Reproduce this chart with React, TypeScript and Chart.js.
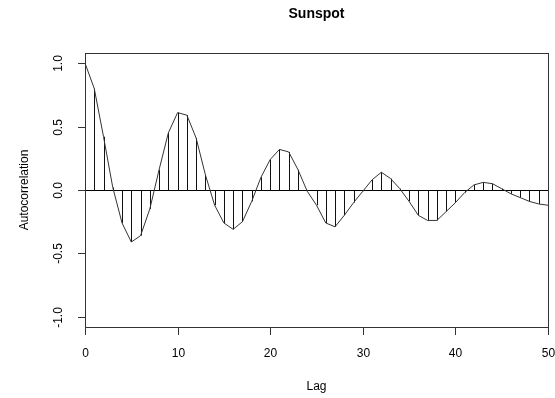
import React, { useEffect, useRef } from "react";
import { Chart, registerables } from "chart.js";

Chart.register(...registerables);

// Autocorrelation of the yearly sunspot series, lags 0..50
const lags: number[] = Array.from({ length: 51 }, (_, i) => i);
const acf: number[] = [
  1.0, 0.8, 0.42, 0.02, -0.26, -0.41, -0.36, -0.15, 0.16, 0.45,
  0.61, 0.59, 0.41, 0.12, -0.12, -0.26, -0.31, -0.25, -0.09, 0.1,
  0.24, 0.32, 0.3, 0.16, -0.01, -0.12, -0.26, -0.29, -0.2, -0.1,
  -0.01, 0.08, 0.14, 0.09, 0.01, -0.09, -0.2, -0.24, -0.24, -0.17,
  -0.1, -0.02, 0.04, 0.06, 0.05, 0.01, -0.03, -0.06, -0.09, -0.11,
  -0.12,
];
const xTicks: number[] = [0, 10, 20, 30, 40, 50];
const yTicks: number[] = [-1.0, -0.5, 0.0, 0.5, 1.0];
const yTickLabels: string[] = ["-1.0", "-0.5", "0.0", "0.5", "1.0"];
const title = "Sunspot";
const xTitle = "Lag";
const yTitle = "Autocorrelation";

const FONT = '"Liberation Sans", Arial, Helvetica, sans-serif';

// Draws the zero line, crisp 1px stems from the bar elements, the box,
// the axes and all the text in base-graphics style.
const framePlugin = {
  id: "rFrame",
  beforeDatasetsDraw(chart: any) {
    const { ctx, chartArea, scales } = chart;
    const y0 = Math.round(scales.y.getPixelForValue(0)) + 0.5;
    ctx.save();
    ctx.strokeStyle = "#000";
    ctx.lineWidth = 1;
    ctx.beginPath();
    ctx.moveTo(chartArea.left, y0);
    ctx.lineTo(chartArea.right, y0);
    ctx.stroke();
    // stems from the bar elements (positions come from the scales)
    const meta = chart.getDatasetMeta(0);
    ctx.strokeStyle = "#111";
    meta.data.forEach((el: any) => {
      const px = Math.round(el.x) + 0.5;
      ctx.beginPath();
      ctx.moveTo(px, y0);
      ctx.lineTo(px, el.y);
      ctx.stroke();
    });
    ctx.restore();
  },
  afterDraw(chart: any) {
    const { ctx, chartArea, scales } = chart;
    const { left, right, top, bottom } = chartArea;
    ctx.save();
    ctx.strokeStyle = "#333";
    ctx.lineWidth = 1;
    ctx.strokeRect(
      Math.round(left) + 0.5,
      Math.round(top) + 0.5,
      Math.round(right - left),
      Math.round(bottom - top)
    );
    ctx.fillStyle = "#000";
    ctx.font = `12px ${FONT}`;
    ctx.textAlign = "center";
    ctx.textBaseline = "middle";
    xTicks.forEach((t) => {
      const px = Math.round(scales.x.getPixelForValue(t)) + 0.5;
      ctx.beginPath();
      ctx.moveTo(px, Math.round(bottom) + 0.5);
      ctx.lineTo(px, Math.round(bottom) + 8);
      ctx.stroke();
      ctx.fillText(String(t), px, 354);
    });
    yTicks.forEach((t, i) => {
      const py = Math.round(scales.y.getPixelForValue(t)) + 0.5;
      ctx.beginPath();
      ctx.moveTo(Math.round(left) + 0.5, py);
      ctx.lineTo(Math.round(left) - 7, py);
      ctx.stroke();
      ctx.save();
      ctx.translate(59, py);
      ctx.rotate(-Math.PI / 2);
      ctx.fillText(yTickLabels[i], 0, 0);
      ctx.restore();
    });
    ctx.fillText(xTitle, (left + right) / 2, 387);
    ctx.save();
    ctx.translate(25, (top + bottom) / 2);
    ctx.rotate(-Math.PI / 2);
    ctx.fillText(yTitle, 0, 0);
    ctx.restore();
    ctx.font = `bold 14px ${FONT}`;
    ctx.fillText(title, (left + right) / 2, 14);
    ctx.restore();
  },
};

export default function App() {
  const ref = useRef<HTMLCanvasElement | null>(null);

  useEffect(() => {
    document.body.style.margin = "0";
    const canvas = ref.current;
    if (!canvas) return;
    const points = lags.map((l, i) => ({ x: l, y: acf[i] }));
    const chart = new Chart(canvas, {
      type: "line",
      data: {
        datasets: [
          {
            type: "bar",
            data: points,
            backgroundColor: "rgba(0,0,0,0)",
            borderWidth: 0,
            barThickness: 1,
            order: 2,
          } as any,
          {
            type: "line",
            data: points,
            borderColor: "#333",
            borderWidth: 1,
            pointRadius: 0,
            tension: 0,
            fill: false,
            order: 1,
          },
        ],
      },
      options: {
        animation: false,
        responsive: false,
        maintainAspectRatio: false,
        devicePixelRatio: 1,
        layout: { padding: { left: 85, right: 7, top: 53, bottom: 71 } },
        plugins: {
          legend: { display: false },
          title: { display: false },
          tooltip: { enabled: false },
        },
        scales: {
          x: { type: "linear", min: 0, max: 50, offset: false, display: false },
          y: { type: "linear", min: -1.08, max: 1.08, display: false },
        },
      },
      plugins: [framePlugin],
    });
    return () => chart.destroy();
  }, []);

  return (
    <div style={{ width: 555, height: 398, background: "#fff" }}>
      <canvas ref={ref} width={555} height={398} style={{ display: "block" }} />
    </div>
  );
}
